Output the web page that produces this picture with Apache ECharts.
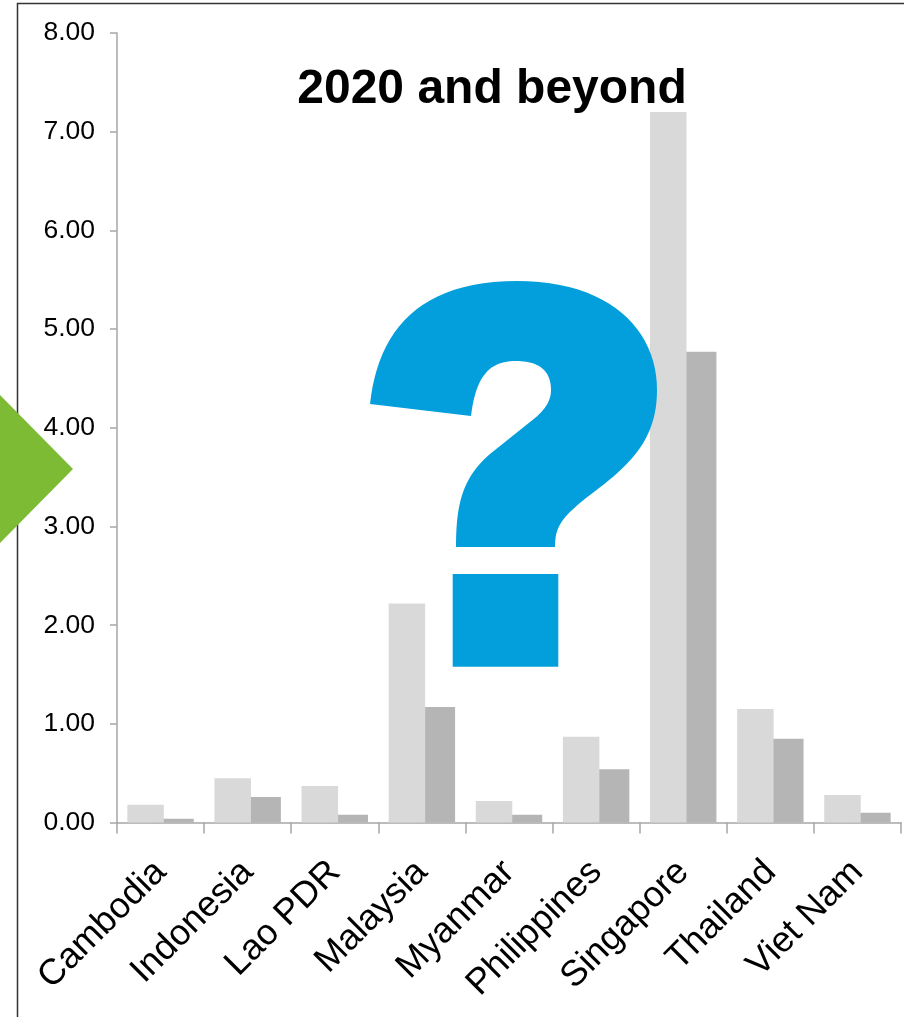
<!DOCTYPE html>
<html>
<head>
<meta charset="utf-8">
<script src="https://cdn.jsdelivr.net/npm/echarts@6/dist/echarts.min.js"></script>
<style>
html,body{margin:0;padding:0;background:#fff;}
#chart{width:904px;height:1017px;}
</style>
</head>
<body>
<div id="chart"></div>
<script>
const categories = ['Cambodia','Indonesia','Lao PDR','Malaysia','Myanmar','Philippines','Singapore','Thailand','Viet Nam'];
const seriesLight = [0.18, 0.45, 0.37, 2.22, 0.22, 0.87, 7.20, 1.15, 0.28];
const seriesDark  = [0.04, 0.26, 0.08, 1.17, 0.08, 0.54, 4.77, 0.85, 0.10];
const yTicks = [0, 1, 2, 3, 4, 5, 6, 7, 8];
const titleText = '2020 and beyond';

const FONT = '"Liberation Sans", Arial, sans-serif';
const AXIS_COLOR = '#a6a6a6';

const chart = echarts.init(document.getElementById('chart'), null, {renderer: 'canvas'});

// Decorative question-mark outline: start point then cubic segments [c1, c2, end] or line [end]
const qSegments = [
  [[378,330],[420,281],[517,281]],
  [[610,281],[657,330],[657,390]],
  [[657,440],[630,465],[590,495]],
  [[560,518],[555,528],[555,547]],
  [[456,547]],
  [[456,505],[462,478],[490,454]],
  [[530,422]],
  [[546,410],[551,400],[551,390]],
  [[551,370],[538,361],[516,361]],
  [[490,361],[476,375],[471,416]]
];
function buildOutline(start, segs) {
  const pts = [start];
  let p = start;
  segs.forEach(s => {
    if (s.length === 1) { pts.push(s[0]); p = s[0]; return; }
    const [c1, c2, e] = s;
    for (let i = 1; i <= 24; i++) {
      const t = i / 24, u = 1 - t;
      pts.push([
        u*u*u*p[0] + 3*u*u*t*c1[0] + 3*u*t*t*c2[0] + t*t*t*e[0],
        u*u*u*p[1] + 3*u*u*t*c1[1] + 3*u*t*t*c2[1] + t*t*t*e[1]
      ]);
    }
    p = e;
  });
  return pts;
}
const qPoints = buildOutline([370,404], qSegments);

chart.setOption({
  animation: false,
  backgroundColor: '#ffffff',
  grid: {left: 117, right: 3, top: 33, bottom: 194.4, containLabel: false},
  xAxis: {
    type: 'category',
    data: categories,
    boundaryGap: true,
    axisLine: {show: true, lineStyle: {color: AXIS_COLOR, width: 1.5}},
    axisTick: {show: true, length: 11, interval: 0, alignWithLabel: false, lineStyle: {color: AXIS_COLOR, width: 1.5}},
    axisLabel: {interval: 0, rotate: 45, margin: 44, color: '#000', fontFamily: FONT, fontSize: 36},
    splitLine: {show: false}
  },
  yAxis: {
    type: 'value',
    min: yTicks[0],
    max: yTicks[yTicks.length - 1],
    interval: 1,
    axisLine: {show: true, lineStyle: {color: AXIS_COLOR, width: 1.5}},
    axisTick: {show: true, length: 7, lineStyle: {color: AXIS_COLOR, width: 1.5}},
    axisLabel: {margin: 22, color: '#000', fontFamily: FONT, fontSize: 26.5, formatter: v => v.toFixed(2)},
    splitLine: {show: false}
  },
  series: [
    {type: 'bar', data: seriesLight, barWidth: 36.5, barGap: '-18%', z: 3, itemStyle: {color: '#d9d9d9'}},
    {type: 'bar', data: seriesDark, barWidth: 36.5, barGap: '-18%', z: 2, itemStyle: {color: '#b5b5b5'}}
  ],
  graphic: [
    {type: 'polyline', z: 100, shape: {points: [[17.5, 1030], [17.5, 3.5], [920, 3.5]]}, style: {stroke: '#333', lineWidth: 1.5, fill: null}},
    {type: 'polygon', z: 101, shape: {points: [[0, 395], [73, 469], [0, 543]]}, style: {fill: '#7dbb35'}},
    {type: 'text', z: 102, x: 492, y: 90, style: {text: titleText, font: 'bold 48px ' + FONT, fill: '#000', textAlign: 'center', textVerticalAlign: 'middle'}},
    {type: 'polygon', z: 103, shape: {points: qPoints}, style: {fill: '#039fdc'}},
    {type: 'rect', z: 103, shape: {x: 452.7, y: 574, width: 105.6, height: 92.7}, style: {fill: '#039fdc'}}
  ]
});
</script>
</body>
</html>
